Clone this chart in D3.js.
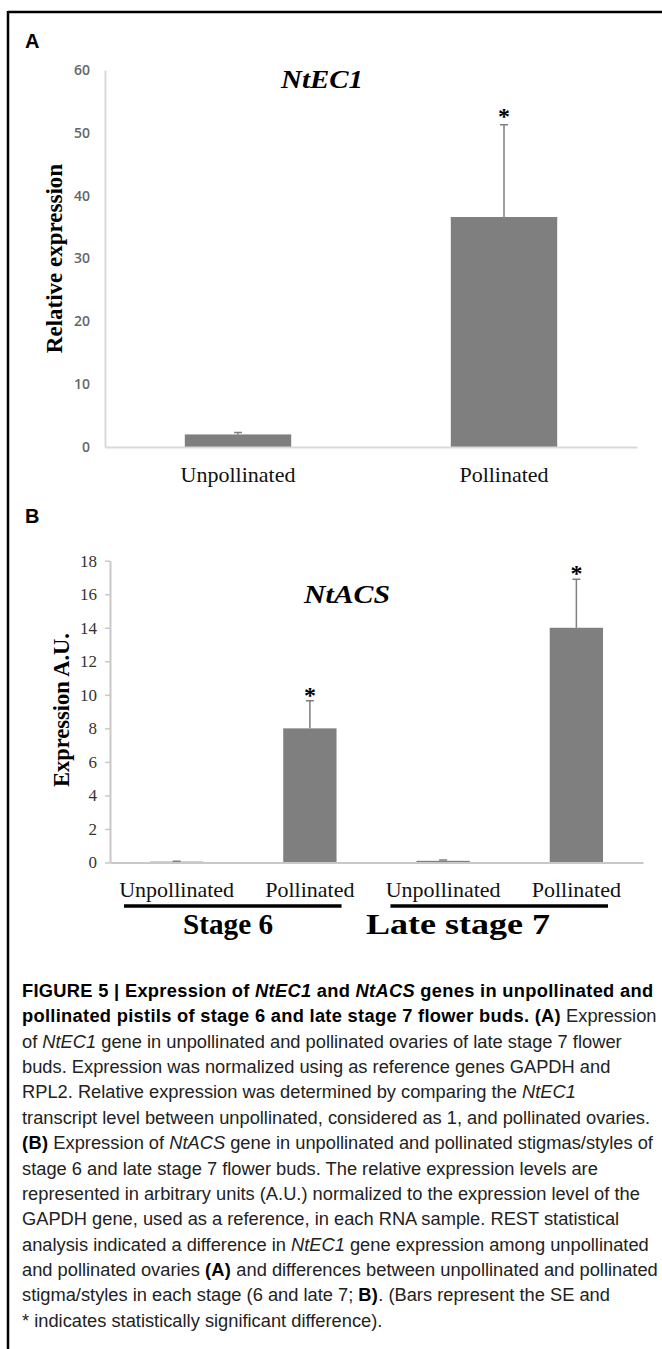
<!DOCTYPE html>
<html>
<head>
<meta charset="utf-8">
<script src="https://cdn.jsdelivr.net/npm/d3@7"></script>
<style>
body { margin: 0; background: #fff; }
text { white-space: pre; }
</style>
</head>
<body>
<script>
// panel A data
var catsA = ["Unpollinated", "Pollinated"];
var valsA = [2.0, 36.6];
var errA = [0.3, 14.7];
var sigA = [false, true];
var ticksA = [0, 10, 20, 30, 40, 50, 60];

// panel B data
var idsB = ["s6u", "s6p", "s7u", "s7p"];
var catsB = ["Unpollinated", "Pollinated", "Unpollinated", "Pollinated"];
var valsB = [0.05, 8.0, 0.1, 14.0];
var errB = [0.03, 1.65, 0.05, 2.9];
var sigB = [false, true, false, true];
var ticksB = [0, 2, 4, 6, 8, 10, 12, 14, 16, 18];
var groupNames = ["Stage 6", "Late stage 7"];
var groupFirst = ["s6u", "s7u"];
var groupLast = ["s6p", "s7p"];

var captionLines = [
    [["FIGURE 5 | Expression of ", "b"], ["NtEC1", "bi"], [" and ", "b"], ["NtACS", "bi"], [" genes in unpollinated and", "b"]],
    [["pollinated pistils of stage 6 and late stage 7 flower buds. (A)", "b"], [" Expression", ""]],
    [["of ", ""], ["NtEC1", "i"], [" gene in unpollinated and pollinated ovaries of late stage 7 flower", ""]],
    [["buds. Expression was normalized using as reference genes GAPDH and", ""]],
    [["RPL2. Relative expression was determined by comparing the ", ""], ["NtEC1", "i"]],
    [["transcript level between unpollinated, considered as 1, and pollinated ovaries.", ""]],
    [["(B)", "b"], [" Expression of ", ""], ["NtACS", "i"], [" gene in unpollinated and pollinated stigmas/styles of", ""]],
    [["stage 6 and late stage 7 flower buds. The relative expression levels are", ""]],
    [["represented in arbitrary units (A.U.) normalized to the expression level of the", ""]],
    [["GAPDH gene, used as a reference, in each RNA sample. REST statistical", ""]],
    [["analysis indicated a difference in ", ""], ["NtEC1", "i"], [" gene expression among unpollinated", ""]],
    [["and pollinated ovaries ", ""], ["(A)", "b"], [" and differences between unpollinated and pollinated", ""]],
    [["stigma/styles in each stage (6 and late 7; ", ""], ["B)", "b"], [". (Bars represent the SE and", ""]],
    [["* indicates statistically significant difference).", ""]]
];

var W = 662, H = 1349;
var serif = "'Liberation Serif', 'Times New Roman', serif";
var sans = "'Liberation Sans', Arial, sans-serif";
var barColor = "#7f7f7f";

var svg = d3.select("body").append("svg")
    .attr("width", W)
    .attr("height", H);

// frame: top and left rule only
svg.append("line").attr("x1", 8).attr("x2", W).attr("y1", 12).attr("y2", 12)
    .style("stroke", "#000").style("stroke-width", 2.5);
svg.append("line").attr("x1", 8).attr("x2", 8).attr("y1", 11).attr("y2", H)
    .style("stroke", "#000").style("stroke-width", 2.5);

// panel letters
svg.append("text").attr("x", 25).attr("y", 48).text("A")
    .style("font-family", sans).style("font-weight", "bold").style("font-size", "20px");
svg.append("text").attr("x", 25).attr("y", 523).text("B")
    .style("font-family", sans).style("font-weight", "bold").style("font-size", "20px");

// ---------- panel A ----------
var xA = d3.scaleBand().domain(catsA).range([105, 637]).paddingInner(0.6).paddingOuter(0.3);
var yA = d3.scaleLinear().domain([0, 60]).range([447, 70]);

var gA = svg.append("g");
var yAxisA = gA.append("g")
    .attr("transform", "translate(105,0)")
    .call(d3.axisLeft(yA).tickValues(ticksA).tickSize(0).tickSizeOuter(0).tickPadding(15));
yAxisA.select(".domain").style("stroke", "#d9d9d9").style("stroke-width", 2);
yAxisA.selectAll("text")
    .style("font-family", "'Open Sans', sans-serif").style("font-size", "14px")
    .style("font-weight", "600").style("fill", "#666");

gA.selectAll(".barA")
    .data(catsA)
    .enter()
    .append("rect")
    .attr("class", "barA")
    .attr("x", function(d){ return xA(d); })
    .attr("width", xA.bandwidth())
    .attr("y", function(d, i){ return yA(valsA[i]); })
    .attr("height", function(d, i){ return yA(0) - yA(valsA[i]); })
    .style("fill", barColor);

var xAxisA = gA.append("g")
    .attr("transform", "translate(0," + yA(0) + ")")
    .call(d3.axisBottom(xA).tickSize(0).tickSizeOuter(0).tickPadding(19));
xAxisA.select(".domain").style("stroke", "#d9d9d9").style("stroke-width", 2);
xAxisA.selectAll("text")
    .style("font-family", serif).style("font-size", "22px").style("fill", "#111");

gA.selectAll(".errA")
    .data(catsA)
    .enter()
    .append("path")
    .attr("class", "errA")
    .attr("d", function(d, i){
        var cx = xA(d) + xA.bandwidth() / 2;
        var top = yA(valsA[i] + errA[i]);
        return "M" + cx + "," + yA(valsA[i]) + "V" + top + "M" + (cx - 4) + "," + top + "H" + (cx + 4);
    })
    .style("stroke", "#7f7f7f").style("stroke-width", 1.5).style("fill", "none");

gA.selectAll(".sigA")
    .data(catsA.filter(function(d, i){ return sigA[i]; }))
    .enter()
    .append("text")
    .attr("class", "sigA")
    .attr("text-anchor", "middle")
    .attr("x", function(d){ return xA(d) + xA.bandwidth() / 2; })
    .attr("y", function(d){ var i = catsA.indexOf(d); return yA(valsA[i] + errA[i]) - 1; })
    .text("*")
    .style("font-family", serif).style("font-weight", "bold").style("font-size", "24px");

gA.append("text")
    .attr("text-anchor", "middle")
    .attr("x", 322).attr("y", 88)
    .attr("textLength", 82).attr("lengthAdjust", "spacingAndGlyphs")
    .text("NtEC1")
    .style("font-family", serif).style("font-style", "italic").style("font-weight", "bold")
    .style("font-size", "25px");

gA.append("text")
    .attr("text-anchor", "middle")
    .attr("transform", "translate(62," + ((yA(0) + yA(60)) / 2) + ") rotate(-90)")
    .text("Relative expression")
    .style("font-family", serif).style("font-weight", "bold").style("font-size", "23px");

// ---------- panel B ----------
var xB = d3.scaleBand().domain(idsB).range([110, 643]).paddingInner(0.6).paddingOuter(0.3);
var yB = d3.scaleLinear().domain([0, 18]).range([862.5, 560.7]);

var gB = svg.append("g");
var yAxisB = gB.append("g")
    .attr("transform", "translate(110,0)")
    .call(d3.axisLeft(yB).tickValues(ticksB).tickSize(5).tickSizeOuter(0).tickPadding(8));
yAxisB.select(".domain").style("stroke", "#c8c8c8").style("stroke-width", 2);
yAxisB.selectAll(".tick line").style("stroke", "#c8c8c8").style("stroke-width", 1.5);
yAxisB.selectAll("text")
    .style("font-family", serif).style("font-size", "17px").style("fill", "#333");

gB.selectAll(".barB")
    .data(idsB)
    .enter()
    .append("rect")
    .attr("class", "barB")
    .attr("x", function(d){ return xB(d); })
    .attr("width", xB.bandwidth())
    .attr("y", function(d, i){ return yB(valsB[i]); })
    .attr("height", function(d, i){ return yB(0) - yB(valsB[i]); })
    .style("fill", barColor);

var xAxisB = gB.append("g")
    .attr("transform", "translate(0," + yB(0) + ")")
    .call(d3.axisBottom(xB).tickSize(0).tickSizeOuter(0).tickPadding(19)
        .tickFormat(function(d){ return catsB[idsB.indexOf(d)]; }));
xAxisB.select(".domain").style("stroke", "#c8c8c8").style("stroke-width", 2);
xAxisB.selectAll("text")
    .style("font-family", serif).style("font-size", "22px").style("fill", "#111");

gB.selectAll(".errB")
    .data(idsB)
    .enter()
    .append("path")
    .attr("class", "errB")
    .attr("d", function(d, i){
        var cx = xB(d) + xB.bandwidth() / 2;
        var top = yB(valsB[i] + errB[i]);
        return "M" + cx + "," + yB(valsB[i]) + "V" + top + "M" + (cx - 4) + "," + top + "H" + (cx + 4);
    })
    .style("stroke", "#7f7f7f").style("stroke-width", 1.5).style("fill", "none");

gB.selectAll(".sigB")
    .data(idsB.filter(function(d, i){ return sigB[i]; }))
    .enter()
    .append("text")
    .attr("class", "sigB")
    .attr("text-anchor", "middle")
    .attr("x", function(d){ return xB(d) + xB.bandwidth() / 2; })
    .attr("y", function(d){ var i = idsB.indexOf(d); return yB(valsB[i] + errB[i]) + 2; })
    .text("*")
    .style("font-family", serif).style("font-weight", "bold").style("font-size", "24px");

gB.append("text")
    .attr("text-anchor", "middle")
    .attr("x", 347).attr("y", 603)
    .attr("textLength", 86).attr("lengthAdjust", "spacingAndGlyphs")
    .text("NtACS")
    .style("font-family", serif).style("font-style", "italic").style("font-weight", "bold")
    .style("font-size", "25px");

gB.append("text")
    .attr("text-anchor", "middle")
    .attr("transform", "translate(69,710) rotate(-90)")
    .text("Expression A.U.")
    .style("font-family", serif).style("font-weight", "bold").style("font-size", "22.5px");

// stage brackets under the category labels
var groupX = [228, 458];
var groupLen = [90, 184];
var groups = gB.selectAll(".grp")
    .data(groupNames)
    .enter()
    .append("g")
    .attr("class", "grp");
groups.append("line")
    .attr("x1", function(d, i){ return xB(groupFirst[i]) - 26; })
    .attr("x2", function(d, i){ return xB(groupLast[i]) + xB.bandwidth() + 5; })
    .attr("y1", 906).attr("y2", 906)
    .style("stroke", "#000").style("stroke-width", 3.5);
groups.append("text")
    .attr("text-anchor", "middle")
    .attr("x", function(d, i){ return groupX[i]; })
    .attr("y", 934)
    .attr("textLength", function(d, i){ return groupLen[i]; })
    .attr("lengthAdjust", "spacingAndGlyphs")
    .text(function(d){ return d; })
    .style("font-family", serif).style("font-weight", "bold").style("font-size", "30px");

// ---------- caption ----------
var cap = svg.append("g");
captionLines.forEach(function(line, li){
    var t = cap.append("text")
        .attr("x", 22)
        .attr("y", 997 + li * 25.36)
        .style("font-family", sans).style("font-size", "18.3px").style("fill", "#222");
    line.forEach(function(seg){
        var bold = seg[1].indexOf("b") >= 0;
        t.append("tspan")
            .text(seg[0])
            .style("font-weight", bold ? "bold" : "normal")
            .style("font-style", seg[1].indexOf("i") >= 0 ? "italic" : "normal")
            .style("letter-spacing", bold ? "0.3px" : "0px")
            .style("fill", bold ? "#000" : "#222");
    });
});
</script>
</body>
</html>
